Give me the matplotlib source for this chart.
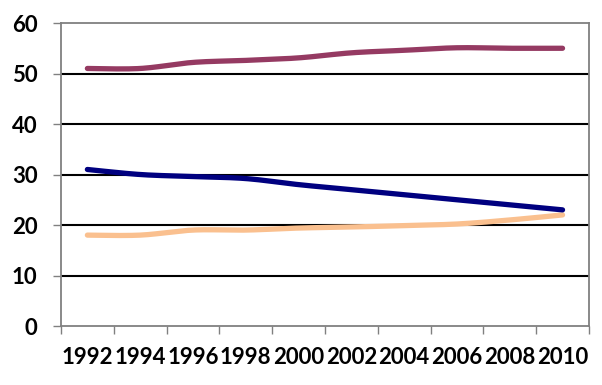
import matplotlib.pyplot as plt
import numpy as np

# Daten
years = ["1992", "1994", "1996", "1998", "2000", "2002", "2004", "2006", "2008", "2010"]
purple_vals = [51, 51, 52.2, 52.6, 53.1, 54.1, 54.6, 55.1, 55, 55]
blue_vals = [31, 30, 29.6, 29.2, 28, 27, 26, 25, 24, 23]
orange_vals = [18, 18, 19, 19, 19.4, 19.6, 19.9, 20.2, 21, 22]


def smooth(y, n=20):
    # Catmull-Rom wie die "geglaettete Linie" in Excel
    y = np.asarray(y, dtype=float)
    x = np.arange(len(y), dtype=float)
    px = np.concatenate([[x[0]], x, [x[-1]]])
    py = np.concatenate([[y[0]], y, [y[-1]]])
    xs, ys = [], []
    for i in range(1, len(px) - 2):
        t = np.linspace(0, 1, n, endpoint=False)
        for p, out in ((px, xs), (py, ys)):
            p0, p1, p2, p3 = p[i - 1], p[i], p[i + 1], p[i + 2]
            out.extend(0.5 * (2 * p1 + (-p0 + p2) * t
                              + (2 * p0 - 5 * p1 + 4 * p2 - p3) * t ** 2
                              + (-p0 + 3 * p1 - 3 * p2 + p3) * t ** 3))
    xs.append(x[-1])
    ys.append(y[-1])
    return np.array(xs), np.array(ys)


plt.rcParams['font.family'] = ['Lato', 'DejaVu Sans']

fig = plt.figure(figsize=(6.02, 3.85), dpi=100)
ax = fig.add_axes([0.1013, 0.1532, 0.877, 0.787])

for yy in range(10, 60, 10):
    ax.axhline(yy, color="black", lw=1.5, zorder=1)

for vals, col in ((purple_vals, "#953a62"), (orange_vals, "#fac08f"), (blue_vals, "#000080")):
    xs, ys = smooth(vals)
    ax.plot(xs, ys, color=col, lw=3.8, solid_capstyle="round", zorder=3)

ax.set_xlim(-0.5, len(years) - 0.5)
ax.set_ylim(0, 60)
ax.set_yticks(range(0, 61, 10))

ax.set_xticks(np.arange(-0.5, len(years), 1.0))
ax.set_xticklabels([])
ax.set_xticks(range(len(years)), minor=True)
ax.set_xticklabels(years, minor=True)
ax.tick_params(axis="x", which="minor", length=0, pad=15, labelsize=16)
ax.tick_params(axis="x", which="major", length=6, width=1, color="#808080")
ax.tick_params(axis="y", length=6, width=1, color="#808080", pad=11, labelsize=16)
for lab in ax.get_xticklabels(minor=True) + ax.get_yticklabels():
    lab.set_fontweight("bold")

for s in ax.spines.values():
    s.set_color("#808080")
    s.set_linewidth(1.3)

plt.savefig("out.png", dpi=100)
